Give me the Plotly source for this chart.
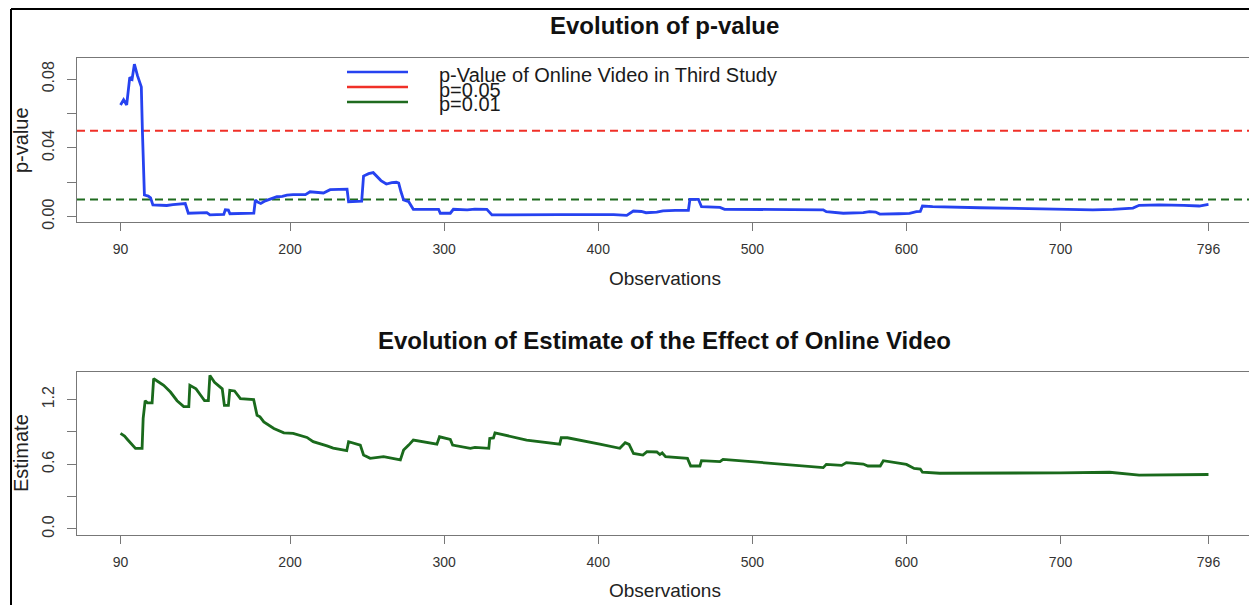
import plotly.graph_objects as go
from plotly.subplots import make_subplots

# ---------------- data ----------------
x_p = [90, 92, 94, 96, 97.5, 99, 101, 103.5, 104.2, 104.7, 105.5, 108, 109.5, 111, 116, 120, 124, 128, 132,
       134, 140, 146, 148, 157, 158, 160, 161, 170, 176.5, 177.5, 179, 181, 184, 188, 191.5, 195, 198, 202,
       206.7, 210, 213, 218, 221.7, 226, 232, 237, 238, 242, 246.5, 247.7, 251, 254, 256, 259, 262.5, 266,
       269, 270.5, 272, 273.7, 277, 280, 290, 296.4, 297.5, 304, 306, 315, 320, 327.7, 331, 345, 360, 375,
       390, 400, 410, 418.5, 422.8, 428, 431, 438, 442, 450, 458.5, 459.5, 465, 467, 475, 479, 482, 500,
       520, 531, 546, 548, 559, 572, 576, 580, 582.7, 595, 602, 606.5, 609, 610.4, 617, 647.5, 680, 699.4,
       721, 734, 747, 751, 764, 780, 790, 796]
p_values = [0.065, 0.068, 0.065, 0.081, 0.080, 0.0887, 0.082, 0.0755, 0.050, 0.031, 0.0126, 0.012, 0.011,
            0.0068, 0.0065, 0.0065, 0.0070, 0.0075, 0.0076, 0.002, 0.0022, 0.0024, 0.001, 0.0013, 0.004,
            0.0038, 0.0017, 0.0018, 0.0021, 0.0097, 0.0085, 0.0077, 0.0092, 0.0105, 0.0116, 0.0118, 0.0125,
            0.0128, 0.013, 0.0128, 0.0145, 0.0142, 0.0138, 0.0157, 0.016, 0.016, 0.0087, 0.009, 0.009,
            0.0236, 0.0250, 0.0256, 0.0236, 0.021, 0.019, 0.0198, 0.020, 0.0195, 0.0145, 0.0097, 0.0087,
            0.0043, 0.0043, 0.0043, 0.002, 0.002, 0.0043, 0.0040, 0.0044, 0.0043, 0.001, 0.0012, 0.0014,
            0.0012, 0.0012, 0.0014, 0.0012, 0.0008, 0.0033, 0.0030, 0.0023, 0.0026, 0.0034, 0.0037, 0.0037,
            0.0101, 0.0101, 0.0058, 0.0056, 0.0054, 0.0043, 0.0042, 0.0041, 0.0043, 0.0040, 0.0029, 0.0020,
            0.0023, 0.0029, 0.0027, 0.0015, 0.0017, 0.0019, 0.0029, 0.0030, 0.0062, 0.0058, 0.0052, 0.0046,
            0.0043, 0.0040, 0.0043, 0.0050, 0.0066, 0.0069, 0.0066, 0.0062, 0.0071]

x_est = [90, 92.6, 94.5, 97.5, 99.7, 104, 104.7, 106, 107.5, 110.5, 111.5, 114, 118, 122.4, 126.7, 131, 134.3,
         135, 139, 142, 144.5, 147, 148, 151, 153.7, 156, 157.4, 160, 160.9, 164, 167.8, 176.4, 178.6, 180.5,
         183, 189.5, 196, 202, 211, 215, 224, 228, 236.8, 238, 245.6, 247.7, 252, 260.7, 271.6, 273.7, 277,
         280, 295.3, 297, 304, 305.5, 317, 320, 329, 329.6, 332, 333, 353.5, 375, 376, 380, 401, 414, 417.5,
         420, 422.9, 429, 431.6, 438, 440, 441.5, 443.7, 457.9, 460, 466, 467, 479, 481, 509, 531, 546, 548,
         558, 561, 572, 575, 583, 585, 600, 605, 609, 610.4, 621.6, 700, 731.8, 751, 796]
estimates = [0.886, 0.861, 0.83, 0.778, 0.748, 0.748, 1.025, 1.19, 1.17, 1.17, 1.394, 1.37, 1.332, 1.27, 1.19,
             1.135, 1.135, 1.332, 1.30, 1.24, 1.19, 1.19, 1.424, 1.36, 1.332, 1.30, 1.147, 1.147, 1.286, 1.28,
             1.209, 1.20, 1.055, 1.04, 0.993, 0.932, 0.892, 0.886, 0.849, 0.81, 0.77, 0.75, 0.726, 0.809, 0.778,
             0.686, 0.655, 0.67, 0.64, 0.732, 0.778, 0.824, 0.787, 0.855, 0.83, 0.778, 0.748, 0.757, 0.748,
             0.84, 0.845, 0.892, 0.824, 0.787, 0.846, 0.846, 0.787, 0.748, 0.80, 0.785, 0.70, 0.686, 0.717,
             0.714, 0.69, 0.705, 0.67, 0.655, 0.584, 0.584, 0.633, 0.624, 0.646, 0.61, 0.584, 0.569, 0.599,
             0.59, 0.615, 0.602, 0.584, 0.584, 0.633, 0.599, 0.562, 0.556, 0.526, 0.517, 0.52, 0.526, 0.50,
             0.505]

x_ticks = [90, 200, 300, 400, 500, 600, 700, 796]
p_ticks = [0.00, 0.02, 0.04, 0.06, 0.08]
p_ticklabels = ["0.00", "", "0.04", "", "0.08"]
est_ticks = [0.0, 0.3, 0.6, 0.9, 1.2]
est_ticklabels = ["0.0", "", "0.6", "", "1.2"]
thresholds = [0.05, 0.01]
threshold_colors = ["#f03028", "#1f6b1f"]
legend_labels = ["p-Value of Online Video in Third Study", "p=0.05", "p=0.01"]
legend_colors = ["#2642f0", "#f03028", "#1f6b1f"]

# ---------------- layout geometry ----------------
# the page body has an 8px margin; positions below are given in window pixels
OFF = 8
W, H = 1257 - OFF, 605 - OFF
PLOT_L, PLOT_R = 77, 1252          # window px
TOP_T, TOP_B = 58, 222
BOT_T, BOT_B = 372, 535
ML = PLOT_L - OFF
MR = W - (PLOT_R - OFF)
MT = TOP_T - OFF
MB = H - (BOT_B - OFF)
PW, PH = W - ML - MR, H - MT - MB


def px(xw):
    return (xw - OFF - ML) / PW


def py(yw):
    return (H - MB - (yw - OFF)) / PH


FONT = "Liberation Sans, Arial, Helvetica, sans-serif"

fig = make_subplots(rows=2, cols=1)

fig.add_trace(go.Scatter(x=x_p, y=p_values, mode="lines",
                         line=dict(color="#2642f0", width=2.8), showlegend=False), row=1, col=1)
fig.add_trace(go.Scatter(x=x_est, y=estimates, mode="lines",
                         line=dict(color="#1a6a1c", width=2.8), showlegend=False), row=2, col=1)

shapes = []
for t, c in zip(thresholds, threshold_colors):
    shapes.append(dict(type="line", xref="x domain", x0=0, x1=1, yref="y", y0=t, y1=t,
                       line=dict(color=c, width=2, dash="8px,5px"), layer="below"))

# legend samples
leg_y_lines = [72, 87, 102]
leg_y_text = [75, 89.5, 104]
for yl, c in zip(leg_y_lines, legend_colors):
    shapes.append(dict(type="line", xref="paper", yref="paper", x0=px(347), x1=px(408),
                       y0=py(yl), y1=py(yl), line=dict(color=c, width=2.5)))

# outer frame (left and top edges)
shapes.append(dict(type="line", xref="paper", yref="paper", x0=px(11), x1=px(11),
                   y0=py(9), y1=py(610), line=dict(color="black", width=2)))
shapes.append(dict(type="line", xref="paper", yref="paper", x0=px(11), x1=px(1262),
                   y0=py(9), y1=py(9), line=dict(color="black", width=2)))

annotations = []
for lab, yt in zip(legend_labels, leg_y_text):
    annotations.append(dict(text=lab, xref="paper", yref="paper", x=px(437), y=py(yt),
                            xanchor="left", yanchor="middle", showarrow=False,
                            font=dict(family=FONT, size=20, color="#1a1a1a")))

titles = [("Evolution of p-value", 26), ("Evolution of Estimate of the Effect of Online Video", 340)]
for txt, yt in titles:
    annotations.append(dict(text="<b>" + txt + "</b>", xref="paper", yref="paper", x=0.5, y=py(yt),
                            xanchor="center", yanchor="middle", showarrow=False,
                            font=dict(family=FONT, size=24, color="#111")))

for yt in [278, 590]:
    annotations.append(dict(text="Observations", xref="paper", yref="paper", x=0.5, y=py(yt),
                            xanchor="center", yanchor="middle", showarrow=False,
                            font=dict(family=FONT, size=19, color="#222")))

for txt, yt in [("p-value", 140), ("Estimate", 453)]:
    annotations.append(dict(text=txt, xref="paper", yref="paper", x=px(21), y=py(yt),
                            xanchor="center", yanchor="middle", showarrow=False, textangle=-90,
                            font=dict(family=FONT, size=20, color="#222")))

axis_common = dict(showgrid=False, zeroline=False, showline=True, mirror=True,
                   linecolor="#777", linewidth=1.3, ticks="outside", tickcolor="#777",
                   tickwidth=1.2)

xr = [61.76, 824.24]
fig.update_xaxes(range=xr, tickvals=x_ticks, ticklen=8, ticklabelstandoff=6,
                 tickfont=dict(family=FONT, size=14, color="#333"), **axis_common)
fig.update_yaxes(**axis_common)
fig.update_yaxes(range=[-0.0031, 0.0923], tickvals=p_ticks, ticktext=p_ticklabels, tickangle=-90,
                 ticklen=9, ticklabelstandoff=6, tickfont=dict(family=FONT, size=16, color="#333"),
                 row=1, col=1)
fig.update_yaxes(range=[-0.056, 1.456], tickvals=est_ticks, ticktext=est_ticklabels, tickangle=-90,
                 ticklen=9, ticklabelstandoff=6, tickfont=dict(family=FONT, size=16, color="#333"),
                 row=2, col=1)

fig.update_layout(
    width=W, height=H,
    margin=dict(l=ML, r=MR, t=MT, b=MB),
    paper_bgcolor="white", plot_bgcolor="white",
    xaxis=dict(domain=[0, 1]),
    xaxis2=dict(domain=[0, 1]),
    yaxis=dict(domain=[(BOT_B - TOP_B) / PH, 1]),
    yaxis2=dict(domain=[0, (BOT_B - BOT_T) / PH]),
    shapes=shapes, annotations=annotations,
    showlegend=False,
)

fig.write_html("out.html")
